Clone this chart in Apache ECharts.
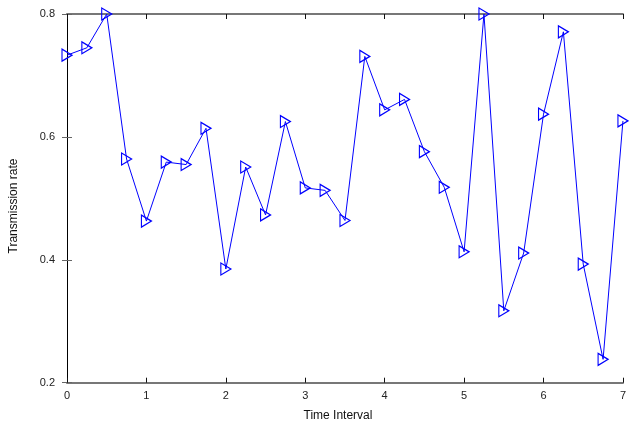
<!DOCTYPE html>
<html><head><meta charset="utf-8">
<script src="https://cdn.jsdelivr.net/npm/echarts@6/dist/echarts.min.js"></script>
<style>html,body{margin:0;padding:0;background:#fff}#c{width:629px;height:426px}</style>
</head><body><div id="c"></div>
<script>
const timeInterval = [0,0.25,0.5,0.75,1,1.25,1.5,1.75,2,2.25,2.5,2.75,3,3.25,3.5,3.75,4,4.25,4.5,4.75,5,5.25,5.5,5.75,6,6.25,6.5,6.75,7];
const transmissionRate = [0.733,0.745,0.800,0.564,0.463,0.559,0.555,0.614,0.385,0.551,0.473,0.625,0.517,0.513,0.464,0.731,0.644,0.661,0.576,0.518,0.413,0.800,0.317,0.411,0.637,0.771,0.393,0.238,0.626];
const xTicks = [0,1,2,3,4,5,6,7];
const yTicks = [0.2,0.4,0.6,0.8];

const font = 'Liberation Sans, Arial, sans-serif';
const chart = echarts.init(document.getElementById('c'));
const axisLbl = {color:'#222', fontSize:11, fontFamily:font};
chart.setOption({
  animation:false,
  grid:{left:67, right:2.5, top:14, bottom:43.3, containLabel:false},
  title:[
    {text:'Time Interval', left:333, top:405, textAlign:'center',
     textStyle:{fontSize:12, fontWeight:'normal', color:'#111', fontFamily:font}},
  ],
  graphic:[{type:'text', x:14, y:206, rotation:Math.PI/2,
    style:{text:'Transmission rate', fill:'#111', font:'12px '+font, textAlign:'center', textVerticalAlign:'middle'}}],
  xAxis:[
    {type:'value', min:0, max:7, interval:1, position:'bottom',
     axisLine:{show:true, lineStyle:{color:'#777', width:2}},
     axisTick:{show:true, inside:true, length:5, lineStyle:{color:'#111', width:1}},
     axisLabel:{...axisLbl, margin:8, formatter:v=>xTicks.includes(v)?String(v):''},
     splitLine:{show:false}},
    {type:'value', min:0, max:7, interval:1, position:'top',
     axisLine:{show:true, lineStyle:{color:'#777', width:2}},
     axisTick:{show:true, inside:true, length:5, lineStyle:{color:'#111', width:1}},
     axisLabel:{show:false}, splitLine:{show:false}}
  ],
  yAxis:[
    {type:'value', min:0.2, max:0.8, interval:0.2, position:'left',
     axisLine:{show:true, lineStyle:{color:'#000', width:1}},
     axisTick:{show:true, inside:true, length:5, lineStyle:{color:'#666', width:1}},
     axisLabel:{...axisLbl, margin:12, formatter:v=>{const t=yTicks.find(y=>Math.abs(y-v)<1e-6);return t===undefined?'':t.toFixed(1);}},
     splitLine:{show:false}},
    {type:'value', min:0.2, max:0.8, interval:0.2, position:'right',
     axisLine:{show:true, lineStyle:{color:'#000', width:1}},
     axisTick:{show:true, inside:true, length:5, lineStyle:{color:'#666', width:1}},
     axisLabel:{show:false}, splitLine:{show:false}}
  ],
  series:[{
    type:'line', xAxisIndex:0, yAxisIndex:0,
    data: timeInterval.map((x,i)=>[x, transmissionRate[i]]),
    clip:false,
    symbol:'path://M0,0 L10,6 L0,12 Z', symbolSize:[10,12], symbolKeepAspect:false,
    lineStyle:{color:'#0000ff', width:1},
    itemStyle:{color:'rgba(0,0,0,0)', borderColor:'#0000ff', borderWidth:1.2},
    emphasis:{disabled:true}
  }]
});
</script></body></html>
